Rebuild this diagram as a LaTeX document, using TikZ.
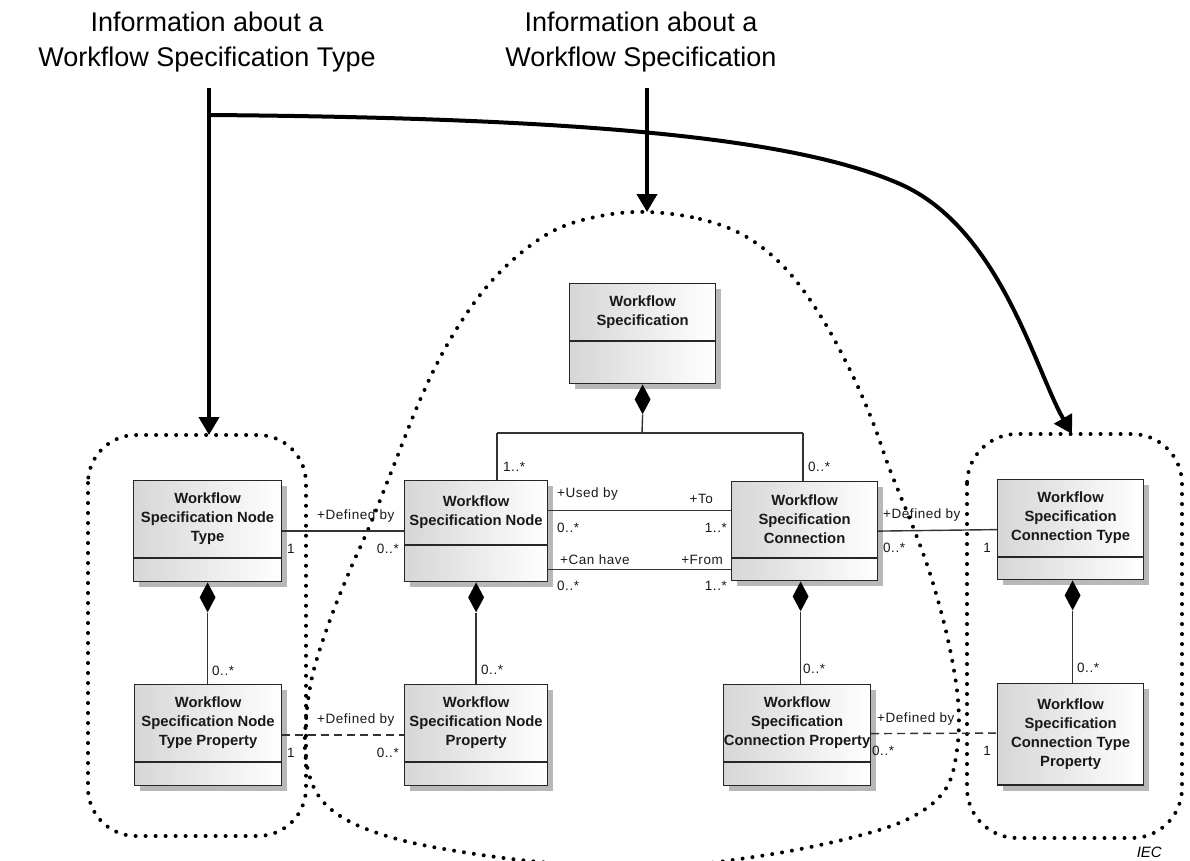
\documentclass[tikz,border=0pt]{standalone}
\usepackage{fontspec}
\setmainfont{Liberation Sans}
\newfontfamily\lblfont[LetterSpace=4]{Liberation Sans}
\usetikzlibrary{arrows.meta,shapes.geometric,calc,shadows}

% UML class: name, x, y, width, height, divider offset, title
\newcommand{\umlclass}[7]{%
  \node[umlbox, minimum width=#4, minimum height=#5, anchor=north west] (#1) at (#2,#3) {};
  \draw[boxline] ($(#1.north west)+(0,#6)$) -- ($(#1.north east)+(0,#6)$);
  \node[classtext] (#1-title) at ($(#1.north)+(0,#6/2)$) {#7};
}

\begin{document}
\begin{tikzpicture}[x=1pt,y=-1pt,
  umlbox/.style={draw=black!85, line width=1.2pt, left color=black!16, right color=white,
    inner sep=0pt, drop shadow={shadow xshift=5pt, shadow yshift=-5pt, fill=black!28, opacity=1}},
  boxline/.style={draw=black!85, line width=1.2pt},
  classtext/.style={font=\fontsize{14.8}{19}\selectfont\bfseries, align=center, inner sep=0pt, text=black!90},
  assoc/.style={draw=black!80, line width=1.4pt},
  dep/.style={assoc, dash pattern=on 8pt off 5pt},
  comp/.style={diamond, fill=black, inner sep=0pt, minimum width=16pt, minimum height=30pt, anchor=north},
  lbl/.style={font=\lblfont\fontsize{13.5}{16}\selectfont, inner sep=0pt, text=black!90},
  toplabel/.style={font=\fontsize{27}{35}\selectfont, align=center, inner sep=0pt},
  bigarrow/.style={line width=4pt, -{Triangle[width=20pt,length=18pt]}},
  dotline/.style={line width=4pt, dash pattern=on 0pt off 10pt, line cap=round},
]
\useasboundingbox (0,0) rectangle (1190,861);

% grouping outlines
\draw[dotline, rounded corners=48pt] (88,435) rectangle (306,836);
\draw[dotline, rounded corners=50pt] (967,434) rectangle (1182,838);
\begin{scope}
  \clip (0,0) rectangle (1190,861);
  \draw[dotline] plot[smooth cycle, tension=0.6] coordinates {
    (647,212) (700,219) (745,236) (785,268) (820,315) (850,370) (872,420)
    (890,470) (915,532) (932,580) (948,640) (958,700) (957,750) (945,790)
    (910,818) (850,838) (760,856) (650,868) (540,862) (450,850) (390,837)
    (345,819) (318,795) (306,760) (306,720) (313,673) (330,620) (350,570)
    (370,525) (392,470) (420,400) (447,345) (480,295) (515,258) (555,230)
    (600,216)};
\end{scope}

% headings and pointers
\node[toplabel, anchor=north] (infoType) at (207,12) {Information about a\\Workflow Specification Type};
\node[toplabel, anchor=north] (infoSpec) at (641,12) {Information about a\\Workflow Specification};
\coordinate (startL) at (209,88);
\coordinate (startM) at (647,88);
\coordinate (branch) at (209,115);
\coordinate (tipL) at (209,435);
\coordinate (tipM) at (647,212);
\coordinate (tipR) at (1072,434);
\draw[bigarrow] (startL) -- (tipL);
\draw[bigarrow] (startM) -- (tipM);
\draw[bigarrow] (branch) .. controls (600,118) and (800,140) .. (900,184)
  .. controls (1000,228) and (1035,370) .. (tipR);

% classes
\umlclass{ws}{569}{283}{146}{100}{58}{Workflow\\Specification}
\umlclass{wsnt}{133}{480}{148}{101}{78}{Workflow\\Specification Node\\Type}
\umlclass{wsn}{404}{480}{143}{101}{65}{Workflow\\Specification Node}
\umlclass{wsc}{731}{481}{146}{99}{77}{Workflow\\Specification\\Connection}
\umlclass{wsct}{997}{479}{146}{100}{78}{Workflow\\Specification\\Connection Type}
\umlclass{wsntp}{134}{684}{147}{101}{78}{Workflow\\Specification Node\\Type Property}
\umlclass{wsnp}{404}{684}{143}{101}{78}{Workflow\\Specification Node\\Property}
\umlclass{wscp}{723}{684}{147}{101}{78}{Workflow\\Specification\\Connection Property}
\umlclass{wsctp}{997}{683}{146}{102}{102}{Workflow\\Specification\\Connection Type\\Property}

% composition diamonds
\node[comp] (dws) at (ws.south) {};
\node[comp] (dwsnt) at (wsnt.south) {};
\node[comp] (dwsn) at (wsn.south) {};
\node[comp] (dwsc) at ($(wsc.south)+(-4,0)$) {};
\node[comp] (dwsct) at ($(wsct.south)+(2,0)$) {};

% composition links
\coordinate (barM) at (642,433);
\coordinate (barL) at (497,433);
\coordinate (barR) at (803,433);
\draw[assoc] (dws.south) -- (barM);
\draw[assoc] (barL) -- (barR);
\draw[assoc] (barL) -- (barL |- wsn.north);
\draw[assoc] (barR) -- (barR |- wsc.north);
\draw[assoc] (dwsnt.south) -- (dwsnt.south |- wsntp.north);
\draw[assoc] (dwsn.south) -- (dwsn.south |- wsnp.north);
\draw[assoc] (dwsc.south) -- (dwsc.south |- wscp.north);
\draw[assoc] (dwsct.south) -- (dwsct.south |- wsctp.north);

% associations
\draw[assoc] (wsnt.east) -- (wsn.west);
\draw[assoc] ($(wsn.east)+(0,-20.5)$) -- ($(wsc.west)+(0,-20.5)$);
\draw[assoc] ($(wsn.east)+(0,38.5)$) -- ($(wsc.west)+(0,38.5)$);
\draw[assoc] (wsc.east) -- (wsct.east -| wsct.west);
\draw[dep] (wsntp.east) -- (wsnp.west);
\draw[dep] ($(wscp.east)+(0,-1.5)$) -- ($(wsctp.west)+(0,-1.5)$);

% association ends
\node[lbl, anchor=base west] (a1) at (317,519) {+Defined by};
\node[lbl, anchor=base west] (a2) at (287,553) {1};
\node[lbl, anchor=base east] (a3) at (399,553) {0..*};
\node[lbl, anchor=base west] (b1) at (557,497) {+Used by};
\node[lbl, anchor=base east] (b2) at (713,503) {+To};
\node[lbl, anchor=base west] (b3) at (557,532) {0..*};
\node[lbl, anchor=base east] (b4) at (727,532) {1..*};
\node[lbl, anchor=base west] (c1) at (560,564) {+Can have};
\node[lbl, anchor=base east] (c2) at (723,564) {+From};
\node[lbl, anchor=base west] (c3) at (557,590) {0..*};
\node[lbl, anchor=base east] (c4) at (727,590) {1..*};
\node[lbl, anchor=base west] (d1) at (883,518) {+Defined by};
\node[lbl, anchor=base west] (d2) at (883,552) {0..*};
\node[lbl, anchor=base east] (d3) at (991,552) {1};
\node[lbl, anchor=base west] (e1) at (503,471) {1..*};
\node[lbl, anchor=base west] (e2) at (808,471) {0..*};
\node[lbl, anchor=base west] (f1) at (212,675) {0..*};
\node[lbl, anchor=base west] (f2) at (481,674) {0..*};
\node[lbl, anchor=base west] (f3) at (803,673) {0..*};
\node[lbl, anchor=base west] (f4) at (1077,672) {0..*};
\node[lbl, anchor=base west] (g1) at (317,723) {+Defined by};
\node[lbl, anchor=base west] (g2) at (287,757) {1};
\node[lbl, anchor=base east] (g3) at (399,757) {0..*};
\node[lbl, anchor=base west] (h1) at (877,722) {+Defined by};
\node[lbl, anchor=base west] (h2) at (872,755) {0..*};
\node[lbl, anchor=base east] (h3) at (991,755) {1};

\node[font=\fontsize{15}{18}\selectfont\itshape, inner sep=0pt, anchor=base east] (iec) at (1162,857) {IEC};
\end{tikzpicture}
\end{document}
